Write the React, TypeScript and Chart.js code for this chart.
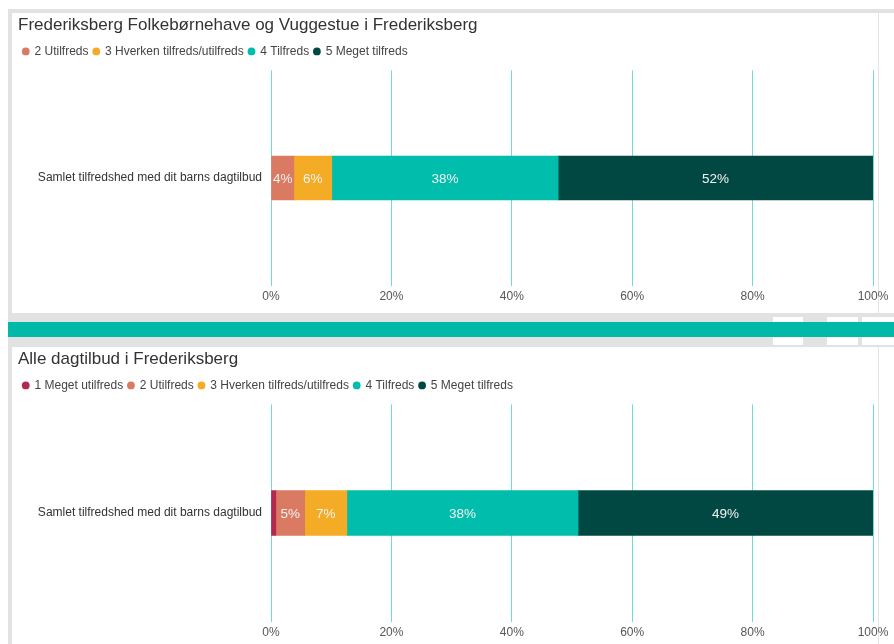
import React, { useEffect, useRef } from "react";
import { Chart, registerables } from "chart.js";

Chart.register(...registerables);

const FONT = '"Liberation Sans", Arial, sans-serif';

const CATEGORY = ["Samlet tilfredshed med dit barns dagtilbud"];
const TOP_TITLE = "Frederiksberg Folkebørnehave og Vuggestue i Frederiksberg";
const BOTTOM_TITLE = "Alle dagtilbud i Frederiksberg";

const TOP_SERIES = ["2 Utilfreds", "3 Hverken tilfreds/utilfreds", "4 Tilfreds", "5 Meget tilfreds"];
const TOP_VALUES = [3.8, 6.3, 37.6, 52.3];

const BOTTOM_SERIES = [
  "1 Meget utilfreds",
  "2 Utilfreds",
  "3 Hverken tilfreds/utilfreds",
  "4 Tilfreds",
  "5 Meget tilfreds",
];
const BOTTOM_VALUES = [0.8, 4.8, 7.0, 38.4, 49.0];

const X_TICKS = [0, 20, 40, 60, 80, 100];

const SERIES_COLORS: Record<string, string> = {
  "1 Meget utilfreds": "#B2294D",
  "2 Utilfreds": "#DA7A62",
  "3 Hverken tilfreds/utilfreds": "#F4AB26",
  "4 Tilfreds": "#01BDAB",
  "5 Meget tilfreds": "#024842",
};

const legendGap = {
  id: "legendGap",
  beforeInit(chart: any) {
    const l = chart.legend;
    if (!l) return;
    const orig = l.fit;
    l.fit = function () {
      orig.call(this);
      this.height += 3;
    };
  },
};

const valueLabels = {
  id: "valueLabels",
  afterDatasetsDraw(chart: any) {
    const ctx = chart.ctx;
    ctx.save();
    ctx.font = "13.5px " + FONT;
    ctx.fillStyle = "#f3f3f3";
    ctx.textAlign = "center";
    ctx.textBaseline = "middle";
    chart.data.datasets.forEach((ds: any, i: number) => {
      const meta = chart.getDatasetMeta(i);
      meta.data.forEach((bar: any, j: number) => {
        const v = ds.data[j] as number;
        const w = Math.abs(bar.x - bar.base);
        if (w < 16) return;
        ctx.fillText(Math.round(v) + "%", (bar.x + bar.base) / 2, bar.y + 1);
      });
    });
    ctx.restore();
  },
};

type PanelProps = {
  title: string;
  series: string[];
  values: number[];
  top: number;
  height: number;
  thickness: number;
  padBottom: number;
};

const CANVAS_LEFT = 18;
const PLOT_LEFT = 271;

function Panel({ title, series, values, top, height, thickness, padBottom }: PanelProps) {
  const ref = useRef<HTMLCanvasElement | null>(null);
  useEffect(() => {
    if (!ref.current) return;
    const chart = new Chart(ref.current, {
      type: "bar",
      data: {
        labels: CATEGORY,
        datasets: series.map((name, i) => ({
          label: name,
          data: [values[i]],
          backgroundColor: SERIES_COLORS[name],
          borderWidth: 0,
          barThickness: thickness,
        })),
      },
      options: {
        indexAxis: "y",
        animation: false,
        responsive: true,
        maintainAspectRatio: false,
        events: [],
        layout: { padding: { left: 0, right: 21, top: 0, bottom: padBottom } },
        scales: {
          x: {
            stacked: true,
            min: 0,
            max: 100,
            afterBuildTicks: (s: any) => {
              s.ticks = X_TICKS.map((v) => ({ value: v }));
            },
            grid: { color: "#72DBD2", lineWidth: 1, drawTicks: false },
            border: { display: false },
            ticks: {
              padding: 4,
              color: "#555",
              font: { size: 12, family: FONT },
              callback: (v: any) => v + "%",
            },
          },
          y: {
            stacked: true,
            grid: { display: false, drawTicks: false },
            border: { display: false },
            afterFit: (s: any) => {
              s.width = PLOT_LEFT - CANVAS_LEFT;
            },
            ticks: { padding: 9, color: "#333", font: { size: 12, family: FONT } },
          },
        },
        plugins: {
          title: {
            display: true,
            text: title,
            align: "start",
            color: "#333",
            font: { size: 17, family: FONT, weight: "normal" },
            padding: { top: 1, bottom: 5 },
          },
          legend: {
            position: "top",
            align: "start",
            labels: {
              usePointStyle: true,
              pointStyle: "circle",
              boxWidth: 5.5,
              boxHeight: 5.5,
              padding: 5,
              color: "#444",
              font: { size: 12, family: FONT },
            },
          },
          tooltip: { enabled: false },
        },
      },
      plugins: [legendGap, valueLabels],
    } as any);
    return () => chart.destroy();
  }, []);
  return (
    <div style={{ position: "absolute", left: CANVAS_LEFT, top, width: 894 - CANVAS_LEFT, height }}>
      <canvas ref={ref} style={{ display: "block" }} />
    </div>
  );
}

export default function App() {
  const abs = (l: number, t: number, w: number, h: number, bg: string): React.CSSProperties => ({
    position: "absolute",
    left: l,
    top: t,
    width: w,
    height: h,
    background: bg,
  });
  return (
    <div style={{ position: "fixed", left: 0, top: 0, width: 894, height: 644, background: "#fff", overflow: "hidden" }}>
      <div style={abs(8, 9, 886, 635, "#e2e2e2")} />
      <div style={abs(12, 13, 882, 300, "#fff")} />
      <div style={abs(878, 13, 1, 300, "#e4e4e4")} />
      <div style={abs(773, 317, 30, 28, "#fff")} />
      <div style={abs(827, 317, 31, 28, "#fff")} />
      <div style={abs(862, 317, 32, 28, "#fff")} />
      <div style={abs(8, 322, 886, 15, "#00B9A8")} />
      <div style={abs(12, 347, 882, 297, "#fff")} />
      <div style={abs(878, 347, 1, 297, "#e4e4e4")} />
      <Panel title={TOP_TITLE} series={TOP_SERIES} values={TOP_VALUES} top={14} height={299} thickness={44} padBottom={5} />
      <Panel
        title={BOTTOM_TITLE}
        series={BOTTOM_SERIES}
        values={BOTTOM_VALUES}
        top={348}
        height={296}
        thickness={45}
        padBottom={0}
      />
    </div>
  );
}
